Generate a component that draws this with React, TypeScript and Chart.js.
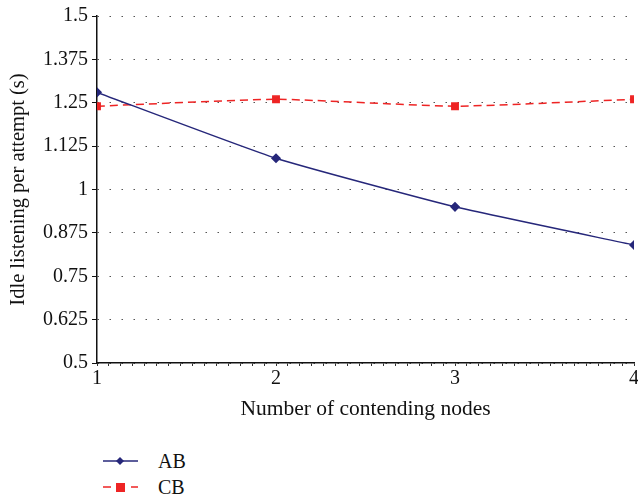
import React, { useEffect, useRef } from "react";
import { Chart, registerables } from "chart.js";

Chart.register(...registerables);

const nodes = [1, 2, 3, 4];
const abValues = [1.28, 1.09, 0.95, 0.84];
const cbValues = [1.24, 1.26, 1.24, 1.26];
const yTicks = [0.5, 0.625, 0.75, 0.875, 1, 1.125, 1.25, 1.375, 1.5];
const minorDivisions = 15;

const AB_COLOR = "#26277a";
const CB_COLOR = "#ee2424";
const FONT = "'Liberation Serif', 'DejaVu Serif', serif";

export default function App() {
  const ref = useRef<HTMLCanvasElement | null>(null);

  useEffect(() => {
    if (!ref.current) return;
    const chart = new Chart(ref.current, {
      type: "line",
      data: {
        datasets: [
          {
            label: "AB",
            data: nodes.map((x, i) => ({ x, y: abValues[i] })),
            borderColor: AB_COLOR,
            backgroundColor: AB_COLOR,
            borderWidth: 1.5,
            pointStyle: "rectRot",
            pointRadius: 4,
            tension: 0.15,
          },
          {
            label: "CB",
            data: nodes.map((x, i) => ({ x, y: cbValues[i] })),
            borderColor: CB_COLOR,
            backgroundColor: CB_COLOR,
            borderWidth: 1.5,
            borderDash: [8, 5],
            pointStyle: "rect",
            pointRadius: 4.5,
            tension: 0.15,
          },
        ],
      },
      options: {
        responsive: false,
        animation: false,
        layout: { padding: { top: 14, right: 0, left: 0, bottom: 0 } },
        plugins: {
          legend: { display: false },
          tooltip: { enabled: false },
        },
        scales: {
          x: {
            type: "linear",
            min: 1,
            max: 4,
            afterBuildTicks: (scale: any) => {
              const t: any[] = [];
              for (let k = 0; k <= 3 * minorDivisions; k++) {
                t.push({ value: 1 + k / minorDivisions });
              }
              scale.ticks = t;
            },
            afterFit: (scale: any) => {
              scale.height = 59;
            },
            ticks: {
              autoSkip: false,
              maxRotation: 0,
              color: "#111",
              font: { family: FONT, size: 20 },
              padding: 1,
              callback: (v: any) => {
                const n = Number(v);
                return Math.abs(n - Math.round(n)) < 1e-6 ? String(Math.round(n)) : "";
              },
            },
            grid: {
              drawOnChartArea: false,
              drawTicks: true,
              tickLength: 3,
              tickColor: "#333",
              tickWidth: 1,
            },
            border: { display: true, color: "#111", width: 1.5 },
            title: {
              display: true,
              text: "Number of contending nodes",
              color: "#111",
              font: { family: FONT, size: 21.5 },
              padding: { top: 0, bottom: 0 },
            },
          },
          y: {
            type: "linear",
            min: 0.5,
            max: 1.5,
            afterBuildTicks: (scale: any) => {
              scale.ticks = yTicks.map((v) => ({ value: v }));
            },
            afterFit: (scale: any) => {
              scale.width = 97;
            },
            ticks: {
              color: "#111",
              font: { family: FONT, size: 20 },
              padding: 4,
              callback: (v: any) => String(v),
            },
            grid: {
              color: "#555",
              lineWidth: 1,
              drawTicks: true,
              tickLength: 5,
              tickColor: "#111",
              tickBorderDash: [],
            },
            border: { display: true, color: "#111", width: 1.5, dash: [1.5, 10.5] },
            title: {
              display: true,
              text: "Idle listening per attempt (s)",
              color: "#111",
              font: { family: FONT, size: 20.5 },
              padding: { top: 6, bottom: 2 },
            },
          },
        },
      },
    });
    return () => chart.destroy();
  }, []);

  const legendRow = (color: string, dashed: boolean, marker: "diamond" | "square", text: string, top: number) => (
    <div style={{ position: "absolute", left: 100, top, height: 26, display: "flex", alignItems: "center" }}>
      <svg width="42" height="14" style={{ display: "block" }}>
        <line
          x1="3"
          y1="7"
          x2="38"
          y2="7"
          stroke={color}
          strokeWidth="1.5"
          strokeDasharray={dashed ? "8 6" : undefined}
        />
        {marker === "diamond" ? (
          <polygon points="20,3 24,7 20,11 16,7" fill={color} />
        ) : (
          <rect x="16" y="3" width="9" height="9" fill={color} />
        )}
      </svg>
      <span style={{ marginLeft: 16, fontFamily: FONT, fontSize: 20, color: "#111" }}>{text}</span>
    </div>
  );

  return (
    <div style={{ position: "fixed", left: 0, top: 0, width: 638, height: 498, overflow: "hidden", background: "#fff" }}>
      <canvas ref={ref} width={640} height={422} style={{ position: "absolute", left: 0, top: 0 }} />
      {legendRow(AB_COLOR, false, "diamond", "AB", 448)}
      {legendRow(CB_COLOR, true, "square", "CB", 474)}
    </div>
  );
}
